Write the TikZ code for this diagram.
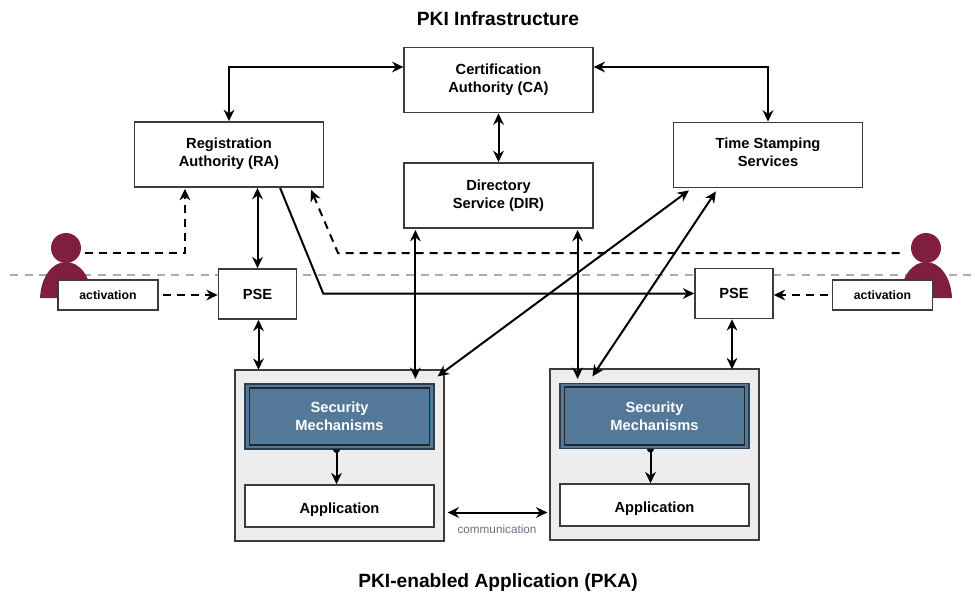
\documentclass[tikz,border=0pt]{standalone}
\usepackage{fontspec}
\setmainfont{Liberation Sans}
\usetikzlibrary{calc}
\usetikzlibrary{arrows.meta}
\definecolor{maroon}{RGB}{127,30,63}
\definecolor{steel}{RGB}{84,120,152}
\definecolor{panel}{RGB}{237,237,237}
\definecolor{edgegray}{RGB}{60,60,60}
\definecolor{edgeblue}{RGB}{40,62,82}
\definecolor{rulegray}{RGB}{160,174,184}
\definecolor{commgray}{RGB}{100,115,130}
\tikzset{
	box/.style={rectangle, draw=edgegray, line width=1.15pt, fill=white, align=center, font=\fontsize{11}{13.5}\selectfont\bfseries},
	bigbox/.style={box, minimum width=141.5pt, minimum height=49pt},
	psebox/.style={box, minimum width=58.5pt, minimum height=37.5pt},
	actbox/.style={box, minimum width=75pt, minimum height=22.5pt, font=\fontsize{9.2}{11}\selectfont\bfseries},
	pkabox/.style={box, fill=panel, minimum width=156.5pt, minimum height=128pt},
	secbox/.style={box, draw=edgeblue, fill=steel, line width=1.1pt, minimum width=141.5pt, minimum height=48.5pt},
	secinner/.style={box, draw=black!85, fill=steel, line width=1.3pt, text=white, minimum width=135pt, minimum height=43pt},
	appbox/.style={box, minimum width=141.5pt, minimum height=31.5pt, text height=11pt, text depth=0pt},
	headnode/.style={circle, fill=maroon, minimum size=22.5pt, inner sep=0pt},
	titlenode/.style={font=\fontsize{14.4}{17}\selectfont\bfseries},
	link/.style={line width=1.5pt, -{Stealth[length=8.5pt,width=8pt]}},
	duplex/.style={line width=1.5pt, {Stealth[length=8.5pt,width=8pt]}-{Stealth[length=8.5pt,width=8pt]}},
	dashlink/.style={link, dash pattern=on 6pt off 4.5pt},
}
\begin{document}
\begin{tikzpicture}[x=0.75pt, y=-0.75pt]
	\useasboundingbox (0,0) rectangle (975,592);
	% Titles
	\node[titlenode] (title) at (498,19) {PKI Infrastructure};
	\node[titlenode] (subtitle) at (498,583) {PKI-enabled Application (PKA)};
	% Boundary
	\coordinate (ruleL) at (10,275);
	\coordinate (ruleR) at (975,275);
	\draw[rulegray, line width=1.6pt, dash pattern=on 6pt off 5pt] (ruleL) -- (ruleR);
	% Users
	\node[headnode] (userL) at (66,248) {};
	\node[headnode] (userR) at (926,248) {};
	\fill[maroon] (40,298) .. controls (41,277) and (52,262) .. (66,262) .. controls (80,262) and (91,277) .. (92,298) -- cycle;
	\fill[maroon] (900,298) .. controls (901,277) and (912,262) .. (926,262) .. controls (940,262) and (951,277) .. (952,298) -- cycle;
	% Infrastructure
	\node[bigbox] (ca) at (498.5,80) {Certification\\Authority (CA)};
	\node[bigbox, text depth=3.4pt] (ra) at (229,154.5) {Registration\\Authority (RA)};
	\node[bigbox] (dir) at (498.5,195.5) {Directory\\Service (DIR)};
	\node[bigbox, text depth=4.5pt] (tss) at (768,155) {Time Stamping\\Services};
	% PSE and activation
	\node[psebox] (pseL) at (257.5,294) {PSE};
	\node[psebox] (pseR) at (734,293.5) {PSE};
	\node[actbox] (actL) at (108,295) {activation};
	\node[actbox] (actR) at (882.5,295) {activation};
	% Applications
	\node[pkabox] (pkaL) at (339.5,455.5) {};
	\node[pkabox] (pkaR) at (654.5,454.5) {};
	\node[secbox] (secL) at (339.5,416.5) {};
	\node[secbox] (secR) at (654.5,416) {};
	\node[secinner] (secinL) at (339.5,416.5) {Security\\Mechanisms};
	\node[secinner] (secinR) at (654.5,416) {Security\\Mechanisms};
	\node[appbox] (appL) at (339.5,506) {Application};
	\node[appbox] (appR) at (654.5,505) {Application};
	\node[font=\fontsize{8.8}{10}\selectfont, text=commgray] (comm) at (497,529) {communication};
	% Connections
	\draw[duplex] ($(ca.west)+(0,-13)$) -| (ra.north);
	\draw[duplex] ($(ca.east)+(0,-13)$) -| (tss.north);
	\draw[duplex] (ca.south) -- (dir.north);
	\draw[duplex] (pseL.north) -- (pseL.north |- ra.south);
	\draw[duplex] ($(pseL.south)+(1,0)$) -- ($(pseL.south)+(1,50)$);
	\draw[duplex] ($(pseR.south)+(-2,0)$) -- ($(pseR.south)+(-2,50)$);
	\draw[link] ($(ra.south east)+(-44,0)$) -- ($(pseR.west)+(-371,0)$) -- (pseR.west);
	\draw[duplex] ($(dir.south west)+(12,1)$) -- ($(dir.south west)+(12,150)$);
	\draw[duplex] ($(dir.south east)+(-16,1)$) -- ($(dir.south east)+(-16,150)$);
	\draw[duplex] ($(tss.south west)+(16,2)$) -- ($(pkaL.north east)+(-7,7)$);
	\draw[duplex] ($(tss.south west)+(43,3)$) -- ($(pkaR.north west)+(43,8)$);
	\draw[duplex] ($(pkaL.east)+(3,57)$) -- ($(pkaR.west)+(-2,58)$);
	% Internal links
	\fill[black] ($(secL.south)+(0.5,0)$) arc (0:180:3.5) -- cycle;
	\fill[black] ($(secR.south)+(-0.5,0)$) arc (0:180:3.5) -- cycle;
	\draw[link] ($(secL.south)+(-3,0)$) -- ($(appL.north)+(-3,0)$);
	\draw[link] ($(secR.south)+(-4,0)$) -- ($(appR.north)+(-4,0)$);
	% Activation
	\draw[dashlink] ($(actL.east)+(4,0)$) -- (pseL.west |- actL.east);
	\draw[dashlink] ($(actR.west)+(-4,0)$) -- (pseR.east |- actR.west);
	\draw[dashlink] ($(userL.east)+(4,5)$) -| ($(ra.south west)+(51,1)$);
	\draw[dashlink] ($(userR.west)+(-11,5)$) -- (338,253) -- ($(ra.south east)+(-13,2)$);
\end{tikzpicture}
\end{document}
